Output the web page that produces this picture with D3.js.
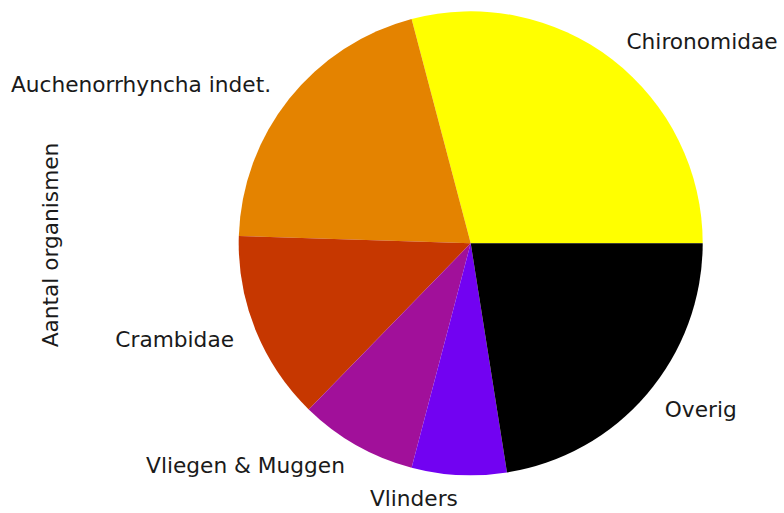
<!DOCTYPE html>
<html>
<head>
<meta charset="utf-8">
<script src="https://cdn.jsdelivr.net/npm/d3@7"></script>
<style>
  body { margin: 0; background: #fff; }
  text { font-family: "DejaVu Sans", sans-serif; fill: #1a1a1a; }
</style>
</head>
<body>
<div id="chart"></div>
<script>
// data
const categories = ["Chironomidae", "Auchenorrhyncha indet.", "Crambidae", "Vliegen & Muggen", "Vlinders", "Overig"];
const counts = [29.1, 20.4, 13.2, 8.2, 6.6, 22.5];
const colours = ["#ffff00", "#e48300", "#c63700", "#a1109a", "#7202f2", "#000000"];

const width = 784;
const height = 513;
const cx = 470.7, cy = 243.3, r = 232;

const viz = d3.select("#chart")
    .append("svg")
    .attr("width", width)
    .attr("height", height);

const rows = categories.map(function(c, i) { return {name: c, value: counts[i], colour: colours[i]}; });

// matplotlib style: start at 3 o'clock, go counterclockwise
const pie = d3.pie()
    .sort(null)
    .value(function(d) { return d.value; })
    .startAngle(Math.PI / 2)
    .endAngle(Math.PI / 2 - 2 * Math.PI);

const arc = d3.arc().innerRadius(0).outerRadius(r);
const labelArc = d3.arc().innerRadius(r * 1.1).outerRadius(r * 1.1);

const g = viz.append("g").attr("transform", `translate(${cx},${cy})`);

g.selectAll("path")
    .data(pie(rows))
    .enter()
    .append("path")
    .attr("d", arc)
    .attr("fill", function(d) { return d.data.colour; });

g.selectAll("text.label")
    .data(pie(rows))
    .enter()
    .append("text")
    .attr("class", "label")
    .attr("x", function(d) { return labelArc.centroid(d)[0]; })
    .attr("y", function(d) { return labelArc.centroid(d)[1]; })
    .attr("dy", "0.36em")
    .attr("text-anchor", function(d) { return labelArc.centroid(d)[0] > 0 ? "start" : "end"; })
    .style("font-size", "21.7px")
    .text(function(d) { return d.data.name; });

// y label
viz.append("text")
    .attr("transform", "translate(58,245) rotate(-90)")
    .attr("text-anchor", "middle")
    .style("font-size", "21.7px")
    .text("Aantal organismen");
</script>
</body>
</html>
